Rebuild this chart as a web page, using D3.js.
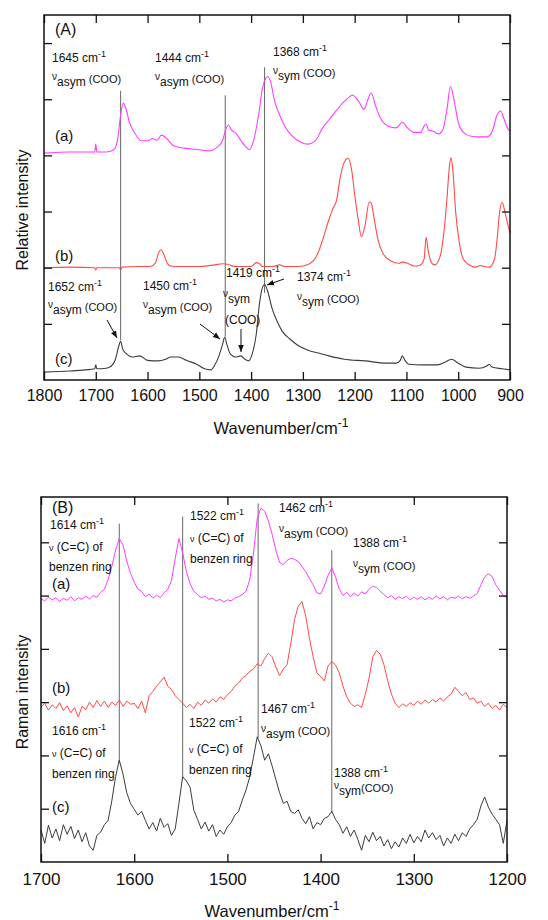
<!DOCTYPE html>
<html>
<head>
<meta charset="utf-8">
<script src="https://cdn.jsdelivr.net/npm/d3@7"></script>
<style>
  body { margin: 0; background: #fff; }
  text { font-family: "Liberation Sans", Arial, sans-serif; fill: #111; }
</style>
</head>
<body>
<svg id="chart" width="548" height="920"></svg>
<script>
// ---- Panel A: IR spectra, [wavenumber, relative intensity] ----
const irA = [[1800,4.04],[1750,4.06],[1720,4.06],[1702,4.06],[1700,4.20],[1698,4.06],[1680,4.06],[1665,4.10],[1658,4.27],[1652,4.72],[1647,4.93],[1642,4.84],[1635,4.59],[1625,4.40],[1612,4.26],[1600,4.26],[1590,4.30],[1582,4.27],[1573,4.36],[1560,4.27],[1550,4.17],[1530,4.13],[1500,4.10],[1480,4.08],[1465,4.15],[1455,4.27],[1448,4.49],[1444,4.54],[1438,4.45],[1430,4.40],[1420,4.27],[1410,4.15],[1403,4.10],[1395,4.27],[1385,4.75],[1378,5.20],[1372,5.37],[1368,5.41],[1362,5.30],[1355,4.98],[1345,4.72],[1335,4.52],[1320,4.34],[1305,4.24],[1290,4.20],[1275,4.27],[1262,4.49],[1250,4.63],[1235,4.80],[1220,4.96],[1204,5.07],[1192,4.96],[1182,4.82],[1175,4.98],[1168,5.11],[1160,4.89],[1150,4.66],[1135,4.52],[1120,4.49],[1108,4.59],[1098,4.49],[1085,4.41],[1072,4.41],[1066,4.52],[1062,4.56],[1057,4.45],[1048,4.43],[1038,4.38],[1030,4.45],[1022,4.80],[1015,5.23],[1008,4.98],[1000,4.59],[990,4.41],[975,4.34],[960,4.33],[945,4.33],[935,4.41],[925,4.72],[918,4.79],[912,4.66],[905,4.49],[900,4.43]];
const irB = [[1800,2.00],[1750,2.01],[1702,2.00],[1700,1.96],[1698,2.00],[1655,2.00],[1652,1.96],[1649,2.01],[1620,2.02],[1595,2.02],[1585,2.08],[1578,2.28],[1574,2.32],[1568,2.22],[1562,2.08],[1555,2.03],[1540,2.02],[1500,2.02],[1470,2.05],[1455,2.07],[1445,2.06],[1430,2.02],[1400,2.02],[1390,2.09],[1385,2.08],[1378,2.02],[1360,2.02],[1345,2.05],[1335,2.02],[1310,2.02],[1295,2.04],[1280,2.12],[1270,2.28],[1260,2.55],[1250,2.85],[1243,3.03],[1235,3.20],[1228,3.60],[1220,3.88],[1213,3.95],[1206,3.75],[1200,3.30],[1193,2.85],[1187,2.55],[1180,2.75],[1172,3.17],[1168,3.15],[1162,2.85],[1155,2.50],[1145,2.25],[1130,2.12],[1115,2.08],[1108,2.10],[1098,2.08],[1085,2.03],[1075,2.04],[1066,2.15],[1062,2.54],[1058,2.30],[1050,2.07],[1045,2.05],[1035,2.20],[1028,2.60],[1022,3.20],[1017,3.80],[1014,3.96],[1010,3.70],[1005,3.00],[998,2.45],[990,2.15],[975,2.03],[965,2.01],[958,2.04],[950,2.02],[940,2.01],[930,2.15],[925,2.50],[920,3.00],[915,3.16],[910,3.00],[905,2.80],[900,2.62]];
const irC = [[1800,0.14],[1750,0.16],[1720,0.18],[1702,0.20],[1700,0.27],[1698,0.20],[1680,0.21],[1670,0.25],[1662,0.37],[1656,0.59],[1652,0.69],[1648,0.55],[1640,0.46],[1630,0.41],[1615,0.43],[1600,0.35],[1580,0.34],[1565,0.37],[1555,0.41],[1540,0.41],[1525,0.35],[1505,0.28],[1490,0.20],[1478,0.18],[1470,0.27],[1462,0.43],[1455,0.64],[1451,0.76],[1447,0.64],[1440,0.46],[1430,0.41],[1420,0.43],[1412,0.37],[1405,0.34],[1398,0.46],[1390,0.82],[1384,1.35],[1378,1.65],[1374,1.70],[1368,1.58],[1360,1.29],[1350,1.05],[1340,0.87],[1325,0.73],[1310,0.62],[1290,0.53],[1270,0.48],[1250,0.43],[1220,0.37],[1180,0.34],[1140,0.30],[1120,0.30],[1112,0.35],[1108,0.43],[1103,0.35],[1095,0.28],[1070,0.27],[1040,0.27],[1025,0.32],[1013,0.37],[1000,0.30],[985,0.23],[960,0.21],[945,0.25],[940,0.28],[935,0.23],[915,0.20],[900,0.18]];
const irTicks = [1800, 1700, 1600, 1500, 1400, 1300, 1200, 1100, 1000, 900];
// marker lines: [wavenumber, bottom, top]
const irMarks = [[1652, 0.71, 5.15], [1450, 0.77, 5.07], [1374, 1.55, 5.57]];

// ---- Panel B: Raman spectra, sampled every 4 cm-1 from 1700 to 1200 ----
const ramanWn = d3.range(1700, 1199, -4);
const ramanA = [4.94,4.90,4.97,4.92,4.96,4.89,4.95,4.91,4.98,4.90,
  4.96,4.93,4.99,4.94,5.00,4.97,5.06,5.12,5.30,5.55,
  5.85,6.07,5.95,5.65,5.42,5.25,5.12,5.08,4.98,5.03,
  4.95,5.01,4.96,5.05,5.12,5.28,5.70,6.07,5.80,5.45,
  5.22,5.08,5.02,4.96,4.99,4.93,4.95,4.90,4.93,4.88,
  4.92,4.90,4.95,4.98,5.02,5.08,5.30,5.80,6.45,6.64,
  6.58,6.40,6.15,5.85,5.62,5.58,5.66,5.70,5.68,5.64,
  5.55,5.45,5.32,5.20,5.05,5.03,5.18,5.38,5.52,5.35,
  5.12,5.00,5.06,4.98,5.05,4.99,5.07,5.03,5.12,5.18,
  5.15,5.08,5.02,4.96,5.00,4.93,4.98,4.94,4.99,4.92,
  4.97,4.93,4.98,4.92,4.97,4.93,4.99,4.94,4.98,4.92,
  4.97,4.95,4.99,4.94,4.98,4.95,4.99,5.04,5.20,5.35,
  5.41,5.36,5.20,5.10,5.00,4.96];
const ramanB = [2.91,2.98,2.85,2.95,2.88,2.99,2.84,2.93,2.80,2.90,
  2.72,2.92,2.86,3.00,2.90,3.03,2.92,3.02,2.90,3.00,
  2.94,3.04,2.92,3.02,2.96,2.98,2.88,3.02,2.80,3.12,
  3.20,3.30,3.38,3.47,3.30,3.24,3.12,3.05,2.98,2.90,
  2.96,2.88,3.00,2.94,3.04,2.98,3.06,3.00,3.10,3.05,
  3.14,3.20,3.30,3.36,3.45,3.50,3.58,3.62,3.72,3.68,
  3.82,3.92,3.85,3.66,3.50,3.62,3.70,4.10,4.55,4.80,
  4.89,4.62,4.20,3.85,3.55,3.48,3.40,3.68,3.76,3.70,
  3.55,3.30,3.10,2.98,2.92,2.95,2.90,3.15,3.45,3.85,
  3.97,3.90,3.70,3.40,3.15,2.98,2.90,2.97,2.92,2.99,
  2.94,3.02,2.96,3.04,2.98,3.05,3.00,3.08,3.02,3.10,
  3.15,3.28,3.20,3.12,3.18,3.05,3.08,2.98,3.02,2.92,
  2.98,2.88,2.94,2.85,2.96,2.90];
const ramanC = [0.60,0.35,0.69,0.45,0.62,0.40,0.70,0.52,0.67,0.44,
  0.60,0.38,0.55,0.30,0.22,0.50,0.56,0.70,0.78,1.15,
  1.60,1.91,1.65,1.30,1.10,0.99,0.88,0.95,0.78,0.62,
  0.74,0.58,0.82,0.65,0.72,0.50,0.62,1.10,1.60,1.52,
  1.40,0.97,0.80,0.62,0.75,0.58,0.70,0.48,0.60,0.52,
  0.66,0.74,0.88,0.95,1.16,1.35,1.60,1.97,2.35,2.18,
  1.91,2.03,1.80,1.55,1.30,1.10,1.14,0.95,0.91,0.98,
  0.82,0.72,0.85,0.62,0.74,0.70,0.82,0.85,0.95,0.80,
  0.70,0.54,0.66,0.48,0.60,0.42,0.22,0.50,0.38,0.56,
  0.40,0.48,0.30,0.42,0.25,0.38,0.28,0.45,0.35,0.52,
  0.36,0.48,0.38,0.60,0.45,0.55,0.42,0.50,0.30,0.45,
  0.35,0.52,0.40,0.55,0.48,0.62,0.70,0.80,1.05,1.22,
  1.03,0.90,0.80,0.70,0.35,0.78];
const ramanTicks = [1700, 1600, 1500, 1400, 1300, 1200];
const ramanMarks = [[1616, 1.86, 6.35], [1548, 1.58, 6.48], [1467, 2.33, 6.73], [1388, 0.92, 5.85]];

const yTicks = [1, 2, 3, 4, 5, 6];
const colors = {a: "#ff3cff", b: "#ff4a4a", c: "#3c3c3c"};

const svg = d3.select("#chart");

svg.append("defs").append("marker")
    .attr("id", "arrow")
    .attr("viewBox", "0 0 10 10")
    .attr("refX", 10).attr("refY", 5)
    .attr("markerWidth", 7).attr("markerHeight", 7)
    .attr("orient", "auto")
  .append("path")
    .attr("d", "M0,1 L10,5 L0,9 Z")
    .attr("fill", "#111");

function drawFrame(x, y, xTicks, fontSize, pad) {
    const [x0, x1] = x.range(), [y0, y1] = y.range();
    const bottom = svg.append("g")
        .attr("transform", `translate(0,${y0})`)
        .call(d3.axisBottom(x).tickValues(xTicks).tickSize(-8).tickSizeOuter(0)
            .tickPadding(pad).tickFormat(d3.format("d")));
    bottom.selectAll("text")
        .attr("font-size", fontSize)
        .style("font-family", '"Liberation Sans", Arial, sans-serif')
        .attr("fill", "#111");
    svg.append("g").attr("transform", `translate(0,${y1})`)
        .call(d3.axisTop(x).tickValues(xTicks).tickSize(-8).tickSizeOuter(0).tickFormat(""));
    svg.append("g").attr("transform", `translate(${x0},0)`)
        .call(d3.axisLeft(y).tickValues(yTicks).tickSize(-8).tickSizeOuter(0).tickFormat(""));
    svg.append("g").attr("transform", `translate(${x1},0)`)
        .call(d3.axisRight(y).tickValues(yTicks).tickSize(-8).tickSizeOuter(0).tickFormat(""));
    svg.selectAll(".domain").remove();
    svg.selectAll(".tick line").attr("stroke", "#111").attr("stroke-width", 1.3);
    svg.append("rect")
        .attr("x", x0).attr("y", y1)
        .attr("width", x1 - x0).attr("height", y0 - y1)
        .attr("fill", "none").attr("stroke", "#111").attr("stroke-width", 1.5);
}

function wnLabel(x, y, num, size = 12) {
    const t = svg.append("text").attr("x", x).attr("y", y).attr("font-size", size);
    t.append("tspan").text(num + " cm");
    t.append("tspan").attr("font-size", size * 0.75).attr("dy", -5).text("-1");
}

function modeLabel(x, y, sub, tail) {
    const t = svg.append("text").attr("x", x).attr("y", y - 6);
    t.append("tspan").attr("font-size", 10).text("ν");
    t.append("tspan").attr("font-size", 12).attr("dy", 6).text(sub);
    if (tail) t.append("tspan").attr("font-size", 11).attr("dy", -3).text(tail);
}

function ringLabel(x, y1, y2) {
    const t = svg.append("text").attr("x", x).attr("y", y1).attr("font-size", 12);
    t.append("tspan").attr("font-size", 9).text("ν");
    t.append("tspan").text(" (C=C) of");
    svg.append("text").attr("x", x).attr("y", y2).attr("font-size", 12).text("benzen ring");
}

function plain(x, y, txt, size) {
    svg.append("text").attr("x", x).attr("y", y).attr("font-size", size).text(txt);
}

function arrow(x1, y1, x2, y2) {
    svg.append("line")
        .attr("x1", x1).attr("y1", y1).attr("x2", x2).attr("y2", y2)
        .attr("stroke", "#111").attr("stroke-width", 1)
        .attr("marker-end", "url(#arrow)");
}

function axisTitle(cx, cy, txt) {
    const t = svg.append("text").attr("x", cx).attr("y", cy)
        .attr("text-anchor", "middle").attr("font-size", 16.5);
    t.append("tspan").text(txt);
    t.append("tspan").attr("font-size", 12).attr("dy", -7).text("-1");
}

function yTitle(cx, cy, txt) {
    svg.append("text")
        .attr("transform", `translate(${cx},${cy}) rotate(-90)`)
        .attr("text-anchor", "middle").attr("font-size", 16).text(txt);
}

// ================= Panel A =================
const xA = d3.scaleLinear().domain([1800, 900]).range([44, 510]);
const yA = d3.scaleLinear().domain([0, 6.5]).range([380, 15]);

const lineA = d3.line().x(d => xA(d[0])).y(d => yA(d[1])).curve(d3.curveMonotoneX);

svg.selectAll(".ir-mark")
    .data(irMarks)
    .enter().append("line")
    .attr("class", "ir-mark")
    .attr("x1", d => xA(d[0])).attr("x2", d => xA(d[0]))
    .attr("y1", d => yA(d[1])).attr("y2", d => yA(d[2]))
    .attr("stroke", "#666").attr("stroke-width", 1);

[[irA, colors.a], [irB, colors.b], [irC, colors.c]].forEach(([data, col]) => {
    svg.append("path")
        .datum(data)
        .attr("fill", "none")
        .attr("stroke", col)
        .attr("stroke-width", 1.1)
        .attr("d", lineA);
});

drawFrame(xA, yA, irTicks, 16, 9.5);

plain(55, 35, "(A)", 16);
plain(55, 141, "(a)", 15);
plain(55, 261, "(b)", 15);
plain(55, 364, "(c)", 15);

wnLabel(52, 62, "1645");
modeLabel(52, 86, "asym", " (COO)");
wnLabel(155, 62, "1444");
modeLabel(155, 86, "asym", " (COO)");
wnLabel(273, 56, "1368");
modeLabel(273, 80, "sym", " (COO)");

wnLabel(48, 291, "1652");
modeLabel(48, 314, "asym", " (COO)");
arrow(107, 320, 117, 338);
wnLabel(143, 290, "1450");
modeLabel(143, 314, "asym", " (COO)");
arrow(200, 324, 220, 339);
wnLabel(226, 277, "1419");
modeLabel(223, 303, "sym", "");
plain(225, 324, "(COO)", 12);
arrow(241, 329, 241, 352);
wnLabel(297, 281, "1374");
modeLabel(297, 306, "sym", " (COO)");
arrow(284, 279, 267, 285);

axisTitle(281, 434, "Wavenumber/cm");
yTitle(28, 210, "Relative intensity");

// ================= Panel B =================
const xB = d3.scaleLinear().domain([1700, 1200]).range([41, 507]);
const yB = d3.scaleLinear().domain([0, 6.85]).range([862, 497]);

const lineB = d3.line().x((d, i) => xB(ramanWn[i])).y(d => yB(d));

svg.selectAll(".raman-mark")
    .data(ramanMarks)
    .enter().append("line")
    .attr("class", "raman-mark")
    .attr("x1", d => xB(d[0])).attr("x2", d => xB(d[0]))
    .attr("y1", d => yB(d[1])).attr("y2", d => yB(d[2]))
    .attr("stroke", "#666").attr("stroke-width", 1);

[[ramanA, colors.a], [ramanB, colors.b], [ramanC, colors.c]].forEach(([data, col]) => {
    svg.append("path")
        .datum(data)
        .attr("fill", "none")
        .attr("stroke", col)
        .attr("stroke-width", 1)
        .attr("d", lineB);
});

drawFrame(xB, yB, ramanTicks, 17, 11);

plain(52, 513, "(B)", 16);
plain(52, 589, "(a)", 15);
plain(52, 693, "(b)", 15);
plain(52, 812, "(c)", 15);

wnLabel(50, 529, "1614");
ringLabel(49, 551, 571);
wnLabel(190, 520, "1522");
ringLabel(190, 542, 563);
wnLabel(279, 512, "1462");
modeLabel(279, 538, "asym", " (COO)");
wnLabel(353, 547, "1388");
modeLabel(353, 573, "sym", " (COO)");

wnLabel(52, 735, "1616");
ringLabel(52, 757, 778);
wnLabel(189, 727, "1522");
ringLabel(189, 753, 774);
wnLabel(261, 713, "1467");
modeLabel(261, 738, "asym", " (COO)");
wnLabel(334, 777, "1388");
modeLabel(334, 795, "sym", "(COO)");

axisTitle(272, 917, "Wavenumber/cm");
yTitle(28, 692, "Raman intensity");
</script>
</body>
</html>
